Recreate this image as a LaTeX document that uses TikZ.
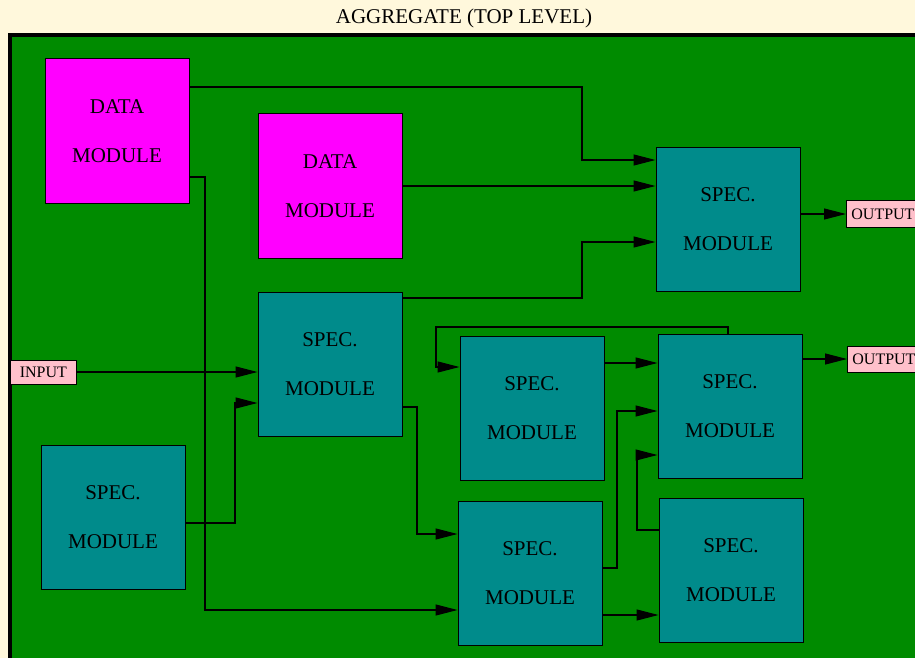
\documentclass[tikz,border=0pt]{standalone}
\usepackage{fontspec}
\setmainfont{Liberation Serif}
\usetikzlibrary{arrows.meta}
\definecolor{bgcream}{RGB}{255,248,220}
\definecolor{aggreen}{RGB}{0,139,0}
\definecolor{modteal}{RGB}{0,139,139}
\definecolor{datamag}{RGB}{255,0,255}
\definecolor{portpink}{RGB}{255,192,203}
\begin{document}
\begin{tikzpicture}[x=1pt,y=-1pt,
  module/.style={draw=black, line width=1pt, minimum width=144pt, minimum height=144pt, inner sep=0pt, align=center, font=\fontsize{21}{48.5}\selectfont},
  datamod/.style={module, fill=datamag},
  specmod/.style={module, fill=modteal},
  port/.style={draw=black, line width=0.8pt, fill=portpink, font=\fontsize{16}{18}\selectfont, inner xsep=5pt, inner ysep=0pt},
  wire/.style={line width=1.2pt, -{Triangle[length=22pt,width=11pt]}},
  ]
\fill[bgcream] (0,0) rectangle (915,658);
\useasboundingbox (0,0) rectangle (915,658);
\clip (0,0) rectangle (915,658);
\node[font=\fontsize{21}{24}\selectfont] (title) at (464,18) {AGGREGATE (TOP LEVEL)};
\draw[line width=4pt, fill=aggreen] (10,35) rectangle (940,660);

\node[datamod] (d1) at (117,131) {DATA\\MODULE};
\node[datamod] (d2) at (330,186) {DATA\\MODULE};
\node[specmod] (s1) at (330,364) {SPEC.\\MODULE};
\node[specmod] (s0) at (113,517) {SPEC.\\MODULE};
\node[specmod] (s5) at (728,219) {SPEC.\\MODULE};
\node[specmod] (s2) at (532,408) {SPEC.\\MODULE};
\node[specmod] (s3) at (530,573) {SPEC.\\MODULE};
\node[specmod] (s4) at (730,406) {SPEC.\\MODULE};
\node[specmod] (s6) at (731,570) {SPEC.\\MODULE};

\node[port, minimum width=66pt, minimum height=24pt, anchor=west] (in) at (10,372) {INPUT};
\node[port, minimum height=27pt, anchor=west] (o1) at (846,214) {OUTPUT};
\node[port, minimum height=26pt, anchor=west] (o2) at (847,359) {OUTPUT};

\draw[wire] (d1.east |- 0,87) -| (582,160) -- (s5.west |- 0,160);
\draw[wire] (d2.east |- 0,186) -- (s5.west |- 0,186);
\draw[wire] (s1.east |- 0,298) -| (582,242) -- (s5.west |- 0,242);
\draw[wire] (s5.east |- o1.west) -- (o1.west);
\draw[wire] (in.east) -- (s1.west |- in.east);
\draw[wire] (s0.east |- 0,523) -| (235,403) -- (s1.west |- 0,403);
\draw[wire] (d1.east |- 0,177) -| (205,610) -- (s3.west |- 0,610);
\draw[wire] (s1.east |- 0,407) -| (417,534) -- (s3.west |- 0,534);
\draw[wire] (s4.north -| 728,0) -- (728,327) -| (436,367) -- (s2.west |- 0,367);
\draw[wire] (s2.east |- 0,363) -- (s4.west |- 0,363);
\draw[wire] (s4.east |- o2.west) -- (o2.west);
\draw[wire] (s3.east |- 0,568) -| (617,411) -- (s4.west |- 0,411);
\draw[wire] (s6.west |- 0,530) -| (637,455) -- (s4.west |- 0,455);
\draw[wire] (s3.east |- 0,615) -- (s6.west |- 0,615);
\end{tikzpicture}
\end{document}
